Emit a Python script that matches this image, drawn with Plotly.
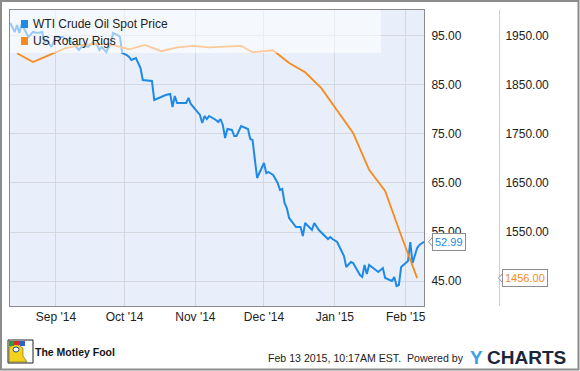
import plotly.graph_objects as go

# ---------------- data ----------------
wti_dates = [
    "2014-08-12", "2014-08-14", "2014-08-15", "2014-08-16", "2014-08-17", "2014-08-18",
    "2014-08-20", "2014-08-22", "2014-08-24", "2014-08-26", "2014-08-27", "2014-08-28",
    "2014-08-30", "2014-09-01", "2014-09-04", "2014-09-06", "2014-09-08", "2014-09-11",
    "2014-09-13", "2014-09-15", "2014-09-16", "2014-09-17", "2014-09-19", "2014-09-20",
    "2014-09-21", "2014-09-23", "2014-09-25", "2014-09-26", "2014-09-28", "2014-09-29",
    "2014-09-30", "2014-10-02", "2014-10-03", "2014-10-04", "2014-10-06", "2014-10-08",
    "2014-10-09", "2014-10-13", "2014-10-14", "2014-10-17", "2014-10-19", "2014-10-21",
    "2014-10-22", "2014-10-23", "2014-10-24", "2014-10-28", "2014-10-29", "2014-10-30",
    "2014-11-02", "2014-11-03", "2014-11-04", "2014-11-05", "2014-11-06", "2014-11-07",
    "2014-11-10", "2014-11-11", "2014-11-12", "2014-11-13", "2014-11-14", "2014-11-15",
    "2014-11-17", "2014-11-18", "2014-11-19", "2014-11-21", "2014-11-24", "2014-11-25",
    "2014-11-26", "2014-11-28", "2014-12-01", "2014-12-02", "2014-12-03", "2014-12-05",
    "2014-12-07", "2014-12-08", "2014-12-09", "2014-12-10", "2014-12-11", "2014-12-12",
    "2014-12-15", "2014-12-17", "2014-12-18", "2014-12-19", "2014-12-22", "2014-12-23",
    "2014-12-25", "2014-12-29", "2014-12-30", "2014-12-31", "2015-01-02", "2015-01-05",
    "2015-01-06", "2015-01-08", "2015-01-09", "2015-01-12", "2015-01-13", "2015-01-14",
    "2015-01-15", "2015-01-16", "2015-01-20", "2015-01-22", "2015-01-23", "2015-01-26",
    "2015-01-27", "2015-01-28", "2015-01-29", "2015-01-30", "2015-02-02", "2015-02-03",
    "2015-02-04", "2015-02-06", "2015-02-07", "2015-02-09",
]
wti_values = [
    97.65, 95.82, 97.24, 95.61, 97.45, 96.63,
    94.80, 95.82, 95.61, 95.82, 93.57, 94.18,
    92.76, 94.80, 94.80, 94.18, 93.78, 92.14,
    93.16, 92.76, 93.16, 93.57, 93.16, 92.14,
    92.76, 91.73, 93.57, 95.61, 95.20, 94.80,
    91.53, 91.12, 90.71, 90.10, 90.51, 88.47,
    86.02, 85.82, 81.94, 82.55, 82.96, 83.16,
    80.51, 82.76, 81.33, 81.33, 82.35, 81.12,
    79.49, 78.88, 77.24, 78.67, 78.06, 78.67,
    77.86, 77.45, 78.06, 76.84, 74.18, 76.02,
    75.82, 74.59, 74.59, 76.63, 76.02, 73.98,
    73.78, 66.02, 69.08, 67.04, 67.24, 66.63,
    65.00, 63.57, 63.78, 60.92, 59.90, 57.86,
    56.02, 56.02, 54.18, 56.84, 55.41, 56.84,
    55.41, 53.57, 53.98, 53.57, 52.96, 50.10,
    47.86, 48.88, 48.67, 46.22, 45.82, 48.27,
    46.43, 48.27, 46.84, 47.65, 45.61, 45.00,
    45.82, 43.98, 44.18, 47.86, 49.08, 52.96,
    48.67, 51.73, 52.35, 52.99,
]

rig_dates = [
    "2014-08-15", "2014-08-22", "2014-08-29", "2014-09-05", "2014-09-12", "2014-09-19",
    "2014-09-26", "2014-10-03", "2014-10-10", "2014-10-17", "2014-10-24", "2014-10-31",
    "2014-11-07", "2014-11-14", "2014-11-21", "2014-11-26", "2014-12-05", "2014-12-12",
    "2014-12-19", "2014-12-26", "2015-01-02", "2015-01-09", "2015-01-16", "2015-01-23",
    "2015-01-30", "2015-02-06",
]
rig_values = [
    1915, 1897, 1911, 1925, 1932, 1934,
    1932, 1923, 1932, 1919, 1927, 1930,
    1927, 1929, 1930, 1917, 1921, 1895,
    1876, 1844, 1799, 1752, 1677, 1634,
    1543, 1456,
]

series_names = ["WTI Crude Oil Spot Price", "US Rotary Rigs"]
x_tick_dates = ["2014-09-01", "2014-10-01", "2014-11-01", "2014-12-01", "2015-01-01", "2015-02-01"]
x_tick_labels = ["Sep '14", "Oct '14", "Nov '14", "Dec '14", "Jan '15", "Feb '15"]
wti_ticks = [45, 55, 65, 75, 85, 95]
rig_ticks = [1550, 1650, 1750, 1850, 1950]
last_wti = wti_values[-1]
last_rig = rig_values[-1]
footer_text = "Feb 13 2015, 10:17AM EST.\u00a0 Powered by"

# ---------------- style ----------------
W, H = 580, 371
ML, MR, MT, MB = 10, 81, 10, 65
PW, PH = W - ML - MR, H - MT - MB
PLOT_RIGHT = 424
BLUE = "#1e8ae6"
ORANGE = "#f98a1c"
GRID = "#d3d7de"
BORDER = "#8a8a8a"
FONT = "Liberation Sans, Arial, sans-serif"
TXT = "#222222"


def px(x):
    return (x - ML) / PW


def py(y):
    return (H - MB - y) / PH


fig = go.Figure()
fig.add_trace(go.Scatter(x=wti_dates, y=wti_values, mode="lines", name=series_names[0],
                         line=dict(color=BLUE, width=2), yaxis="y", showlegend=False))
fig.add_trace(go.Scatter(x=rig_dates, y=rig_values, mode="lines", name=series_names[1],
                         line=dict(color=ORANGE, width=1.8), yaxis="y2", showlegend=False))

shapes = []
# translucent legend backdrop
shapes.append(dict(type="rect", xref="paper", yref="paper", x0=px(10), x1=px(381),
                   y0=py(53), y1=py(10), fillcolor="rgba(255,255,255,0.55)",
                   line=dict(width=0), layer="above"))
# legend squares
shapes.append(dict(type="rect", xref="paper", yref="paper", x0=px(21), x1=px(28),
                   y0=py(28), y1=py(20), fillcolor=BLUE, line=dict(width=0), layer="above"))
shapes.append(dict(type="rect", xref="paper", yref="paper", x0=px(21), x1=px(28),
                   y0=py(45), y1=py(37), fillcolor=ORANGE, line=dict(width=0), layer="above"))
# value tag pointers
shapes.append(dict(type="path", xref="paper", yref="y",
                   path=f"M {px(432.5)},{last_wti + 0.9} L {px(428.5)},{last_wti} L {px(432.5)},{last_wti - 0.9} Z",
                   fillcolor="white", line=dict(color="#8c8c8c", width=1), layer="above"))
shapes.append(dict(type="path", xref="paper", yref="y2",
                   path=f"M {px(502.5)},{last_rig + 9} L {px(498.5)},{last_rig} L {px(502.5)},{last_rig - 9} Z",
                   fillcolor="white", line=dict(color="#8c8c8c", width=1), layer="above"))
# outer frame
shapes.append(dict(type="rect", xref="paper", yref="paper", x0=px(1), x1=px(578.5),
                   y0=py(369.5), y1=py(1), line=dict(color="#8c8c8c", width=2),
                   fillcolor="rgba(0,0,0,0)", layer="above"))
# jester logo (simplified)
shapes.append(dict(type="rect", xref="paper", yref="paper", x0=px(8), x1=px(33),
                   y0=py(363), y1=py(340), fillcolor="white", line=dict(color="#222", width=1)))
shapes.append(dict(type="path", xref="paper", yref="paper",
                   path=f"M {px(9)},{py(362)} L {px(9)},{py(347)} L {px(16)},{py(344)} L {px(23)},{py(348)} "
                        f"L {px(23)},{py(356)} L {px(27)},{py(362)} Z",
                   fillcolor="#f2d21b", line=dict(color="#6b5a10", width=0.6)))
shapes.append(dict(type="rect", xref="paper", yref="paper", x0=px(9), x1=px(14),
                   y0=py(346), y1=py(341), fillcolor="#2e9a3a", line=dict(width=0)))
shapes.append(dict(type="rect", xref="paper", yref="paper", x0=px(14), x1=px(20),
                   y0=py(345), y1=py(341), fillcolor="#d62a2a", line=dict(width=0)))
shapes.append(dict(type="rect", xref="paper", yref="paper", x0=px(20), x1=px(25),
                   y0=py(346), y1=py(341), fillcolor="#2b5fcf", line=dict(width=0)))
shapes.append(dict(type="circle", xref="paper", yref="paper", x0=px(13), x1=px(19),
                   y0=py(352), y1=py(347), fillcolor="#ffffff", line=dict(color="#1d4fa0", width=1)))

annotations = [
    dict(text=series_names[0], xref="paper", yref="paper", x=px(31), y=py(24),
         xanchor="left", yanchor="middle", showarrow=False, font=dict(size=12, color=TXT, family=FONT)),
    dict(text=series_names[1], xref="paper", yref="paper", x=px(31), y=py(41),
         xanchor="left", yanchor="middle", showarrow=False, font=dict(size=12, color=TXT, family=FONT)),
    dict(text=f"{last_wti:.2f}", xref="paper", yref="y", x=px(432), y=last_wti,
         xanchor="left", yanchor="middle", showarrow=False, bgcolor="white",
         bordercolor="#8c8c8c", borderwidth=1, borderpad=2,
         font=dict(size=11, color=BLUE, family=FONT)),
    dict(text=f"{last_rig:.2f}", xref="paper", yref="y2", x=px(502), y=last_rig,
         xanchor="left", yanchor="middle", showarrow=False, bgcolor="white",
         bordercolor="#8c8c8c", borderwidth=1, borderpad=2,
         font=dict(size=11, color=ORANGE, family=FONT)),
    dict(text="<b>The Motley Fool</b>", xref="paper", yref="paper", x=px(33), y=py(352),
         xanchor="left", yanchor="middle", showarrow=False,
         font=dict(size=10.5, color="#151515", family=FONT)),
    dict(text=footer_text, xref="paper", yref="paper", x=px(266), y=py(358),
         xanchor="left", yanchor="middle", showarrow=False,
         font=dict(size=10.6, color=TXT, family=FONT)),
    dict(text="<b>Y</b>", xref="paper", yref="paper", x=px(468), y=py(357),
         xanchor="left", yanchor="middle", showarrow=False,
         font=dict(size=19, color="#3aa2e6", family=FONT)),
    dict(text="<b>CHARTS</b>", xref="paper", yref="paper", x=px(485), y=py(357),
         xanchor="left", yanchor="middle", showarrow=False,
         font=dict(size=19, color="#1c2638", family=FONT)),
]

fig.update_layout(
    width=W, height=H,
    margin=dict(l=ML, r=MR, t=MT, b=MB, pad=0),
    paper_bgcolor="white",
    plot_bgcolor="#e8effb",
    showlegend=False,
    font=dict(family=FONT, size=12, color=TXT),
    xaxis=dict(
        domain=[0, (PLOT_RIGHT - ML) / PW],
        type="date",
        range=["2014-08-11 22:00", "2015-02-09 00:00"],
        tickvals=x_tick_dates, ticktext=x_tick_labels,
        showgrid=True, gridcolor=GRID, gridwidth=1,
        showline=True, linecolor=BORDER, linewidth=1, mirror=True,
        ticks="", zeroline=False,
        tickfont=dict(size=12, color=TXT, family=FONT),
    ),
    yaxis=dict(
        side="right", anchor="x",
        range=[39.9, 100.3],
        tickvals=wti_ticks, ticktext=[f"{v:.2f}" for v in wti_ticks],
        showgrid=True, gridcolor=GRID, gridwidth=1,
        showline=True, linecolor=BORDER, linewidth=1, mirror=True,
        ticks="", zeroline=False, ticklabelstandoff=4,
        tickfont=dict(size=12, color=TXT, family=FONT),
    ),
    yaxis2=dict(
        overlaying="y", side="right", anchor="free", position=1.0,
        range=[1399.0, 2003.1],
        tickvals=rig_ticks, ticktext=[f"{v:.2f}" for v in rig_ticks],
        showgrid=False, showline=True, linecolor="#cfcfcf", linewidth=1,
        ticks="", zeroline=False, ticklabelstandoff=3,
        tickfont=dict(size=12, color=TXT, family=FONT),
    ),
    shapes=shapes,
    annotations=annotations,
)

fig.write_html("out.html", config={"displayModeBar": False},
               post_script="document.body.style.margin='0';document.body.style.overflow='hidden';")
